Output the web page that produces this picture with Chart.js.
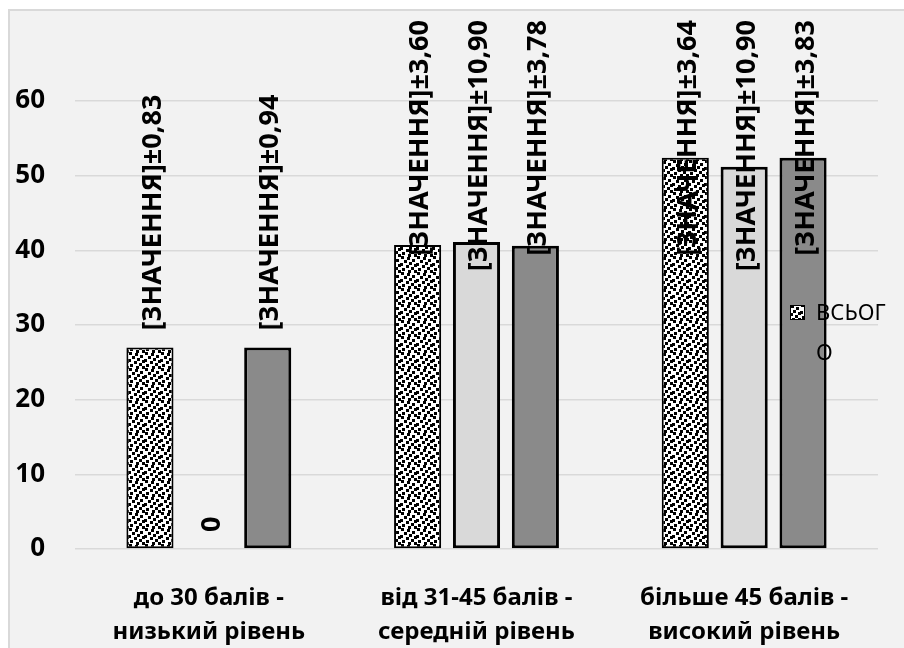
<!DOCTYPE html>
<html>
<head>
<meta charset="utf-8">
<script src="https://cdn.jsdelivr.net/npm/chart.js@4/dist/chart.umd.min.js"></script>
<style>
  html, body { margin: 0; padding: 0; background: #ffffff; }
  #wrap { width: 904px; height: 648px; }
</style>
</head>
<body>
<div id="wrap"><canvas id="c" width="904" height="648"></canvas></div>
<script>
// Score bands (two-line category labels)
const categories = [
  ['до 30 балів -', 'низький рівень'],
  ['від 31-45 балів -', 'середній рівень'],
  ['більше 45 балів -', 'високий рівень']
];

// Percent of respondents in each band
const totalValues  = [27, 40.7, 52.4];
const group2Values = [0, 41.1, 51.2];
const group3Values = [27, 40.6, 52.4];

// Spread printed after each bar label
const totalSpread  = ['0,83', '3,60', '3,64'];
const group2Spread = [null, '10,90', '10,90'];
const group3Spread = ['0,94', '3,78', '3,83'];

const seriesNames = ['всього', 'група 2', 'група 3'];
const yTicks = [0, 10, 20, 30, 40, 50, 60];

const labelPrefix = '[ЗНАЧЕННЯ]±';
const FONT = '"Noto Sans", "Open Sans", sans-serif';

// Black-on-white confetti fill for the "всього" series
function makeConfetti() {
  const t = document.createElement('canvas');
  t.width = 16; t.height = 16;
  const g = t.getContext('2d');
  g.fillStyle = '#ffffff';
  g.fillRect(0, 0, 16, 16);
  g.fillStyle = '#000000';
  const dots = [[1,0],[7,1],[12,3],[4,4],[9,6],[0,7],[14,8],[6,9],[11,11],[2,12],[8,14],[14,14]];
  dots.forEach(([x, y]) => {
    for (let dx = 0; dx < 3; dx++) for (let dy = 0; dy < 3; dy++) {
      g.fillRect((x + dx) % 16, (y + dy) % 16, 1, 1);
    }
  });
  return g.createPattern(t, 'repeat');
}
const confetti = makeConfetti();

function labelsFor(values, spread) {
  return values.map((v, i) => spread[i] === null ? String(v) : labelPrefix + spread[i]);
}
const barLabels = [
  labelsFor(totalValues, totalSpread),
  labelsFor(group2Values, group2Spread),
  labelsFor(group3Values, group3Spread)
];

// Chart frame background and left/top edges
const framePlugin = {
  id: 'frame',
  beforeDraw(chart) {
    const ctx = chart.ctx;
    ctx.save();
    ctx.fillStyle = '#ffffff';
    ctx.fillRect(0, 0, chart.width, chart.height);
    ctx.fillStyle = '#f2f2f2';
    ctx.fillRect(9, 10, chart.width - 9, chart.height - 10);
    ctx.strokeStyle = '#d9d9d9';
    ctx.lineWidth = 2;
    ctx.beginPath();
    ctx.moveTo(9, chart.height);
    ctx.lineTo(9, 10);
    ctx.lineTo(chart.width, 10);
    ctx.stroke();
    ctx.restore();
  }
};

// Vertical labels above every bar, kept inside the frame
const valueLabelPlugin = {
  id: 'valueLabels',
  afterDatasetsDraw(chart) {
    const ctx = chart.ctx;
    ctx.save();
    ctx.font = 'bold 27px ' + FONT;
    ctx.fillStyle = '#000000';
    ctx.textAlign = 'left';
    ctx.textBaseline = 'middle';
    chart.data.datasets.forEach((ds, di) => {
      const meta = chart.getDatasetMeta(di);
      meta.data.forEach((bar, i) => {
        const text = barLabels[di][i];
        const w = ctx.measureText(text).width;
        let bottom = bar.y - 17;
        if (bottom - w < 20) bottom = 20 + w;
        ctx.save();
        ctx.translate(bar.x + 3, bottom);
        ctx.rotate(-Math.PI / 2);
        ctx.fillText(text, 0, 0);
        ctx.restore();
      });
    });
    ctx.restore();
  }
};

// Single-entry legend with the wrapped series name
const legendPlugin = {
  id: 'sideLegend',
  afterDatasetsDraw(chart) {
    const ctx = chart.ctx;
    ctx.save();
    ctx.fillStyle = confetti;
    ctx.fillRect(790, 305, 15, 15);
    ctx.strokeStyle = '#000000';
    ctx.lineWidth = 1;
    ctx.strokeRect(790.5, 305.5, 14, 14);
    ctx.fillStyle = '#000000';
    ctx.font = '22px ' + FONT;
    ctx.textAlign = 'left';
    ctx.textBaseline = 'middle';
    const name = seriesNames[0].toUpperCase();
    ctx.fillText(name.slice(0, 5), 816, 314);
    ctx.fillText(name.slice(5), 816, 354);
    ctx.restore();
  }
};

new Chart(document.getElementById('c'), {
  type: 'bar',
  data: {
    labels: categories,
    datasets: [
      {
        label: seriesNames[0],
        data: totalValues,
        backgroundColor: confetti,
        borderColor: '#000000',
        borderWidth: 2,
        borderSkipped: false
      },
      {
        label: seriesNames[1],
        data: group2Values,
        backgroundColor: '#d9d9d9',
        borderColor: '#000000',
        borderWidth: 3,
        borderSkipped: false
      },
      {
        label: seriesNames[2],
        data: group3Values,
        backgroundColor: '#8a8a8a',
        borderColor: '#000000',
        borderWidth: 3,
        borderSkipped: false
      }
    ]
  },
  options: {
    responsive: false,
    animation: false,
    layout: { padding: { left: 9, right: 26, top: 101, bottom: 0 } },
    datasets: { bar: { categoryPercentage: 0.66, barPercentage: 0.8 } },
    plugins: { legend: { display: false }, tooltip: { enabled: false } },
    scales: {
      x: {
        grid: { display: false, drawTicks: false },
        border: { display: false },
        ticks: {
          color: '#000000',
          font: { family: FONT, size: 24, weight: 'bold', lineHeight: 1.42 },
          padding: 32,
          maxRotation: 0,
          autoSkip: false
        },
        afterFit(scale) { scale.height = 99; }
      },
      y: {
        min: 0,
        max: 60,
        afterBuildTicks(scale) { scale.ticks = yTicks.map(v => ({ value: v })); },
        grid: { color: '#d9d9d9', lineWidth: 1.5, drawTicks: false },
        border: { display: false },
        ticks: {
          color: '#000000',
          font: { family: FONT, size: 26, weight: 'bold' },
          padding: 30
        },
        afterFit(scale) { scale.width = 66; }
      }
    }
  },
  plugins: [framePlugin, valueLabelPlugin, legendPlugin]
});
</script>
</body>
</html>
